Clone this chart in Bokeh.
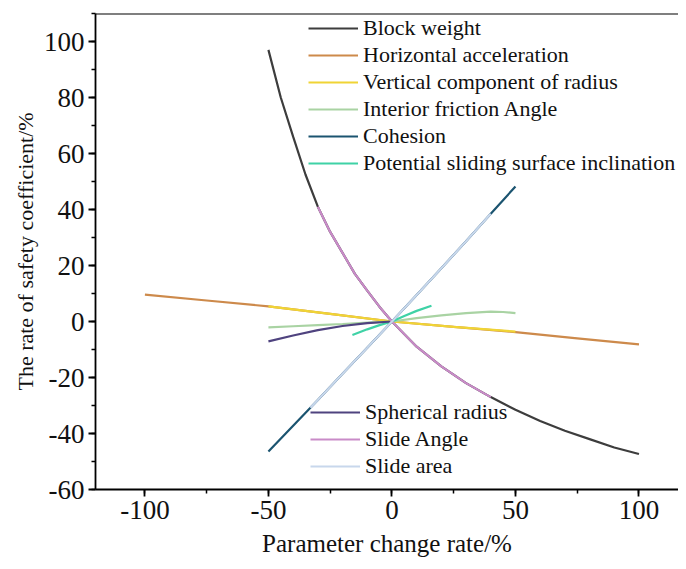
from bokeh.plotting import figure
from bokeh.models import (Legend, LegendItem, SingleIntervalTicker, Span, Range1d,
                          PrintfTickFormatter)
from bokeh.embed import file_html
from bokeh.resources import INLINE

# ---- data ----
bw_x = [-50, -45, -40, -35, -30, -25, -20, -15, -10, -5, 0, 10, 20, 30, 40, 50, 60, 70, 80, 90, 100]
bw_y = [97, 80, 66, 52.5, 41, 32, 24.5, 17, 11, 5.2, 0, -9, -16, -22, -27, -31.5, -35.5, -39, -42, -45, -47.3]

ha_x = [-100, -75, -50, -25, 0, 25, 50, 75, 100]
ha_y = [9.6, 7.5, 5.4, 2.7, 0, -1.9, -3.8, -6.0, -8.2]

vc_x = [-50, -25, 0, 25, 50]
vc_y = [5.4, 2.7, 0, -1.9, -3.6]

if_x = [-50, -40, -30, -20, -10, 0, 10, 20, 30, 40, 45, 50]
if_y = [-2.1, -1.7, -1.3, -0.9, -0.4, 0, 1.2, 2.2, 3.0, 3.5, 3.4, 3.0]

co_x = [-50, -40, -30, -20, -10, 0, 10, 20, 30, 40, 50]
co_y = [-46.4, -37.2, -28, -18.7, -9.4, 0, 9.5, 19, 28.7, 38.5, 48.2]

ps_x = [-16, -10, -5, 0, 5, 10, 16]
ps_y = [-4.8, -2.8, -1.3, 0, 2.0, 3.8, 5.6]

sr_x = [-50, -40, -30, -20, -10, 0]
sr_y = [-7.1, -5.0, -3.1, -1.6, -0.6, 0]

sa_x = [-30, -25, -20, -15, -10, -5, 0, 10, 20, 30, 40]
sa_y = [41, 32, 24.5, 17, 11, 5.2, 0, -9, -16, -22, -27]

ar_x = [-33, -30, -20, -10, 0, 10, 20, 30, 40]
ar_y = [-30.8, -28, -18.7, -9.4, 0, 9.5, 19, 28.7, 38.5]

names = ["Block weight", "Horizontal acceleration", "Vertical component of radius",
         "Interior friction Angle", "Cohesion", "Potential sliding surface inclination",
         "Spherical radius", "Slide Angle", "Slide area"]
colors = ["#3d3d3d", "#cd8a4b", "#f0d435", "#a9d3a3", "#1b5470", "#3fd2a6",
          "#4f437f", "#c98bc8", "#c8d7ec"]
series = [(bw_x, bw_y), (ha_x, ha_y), (vc_x, vc_y), (if_x, if_y), (co_x, co_y),
          (ps_x, ps_y), (sr_x, sr_y), (sa_x, sa_y), (ar_x, ar_y)]

FONT = "Liberation Serif"

p = figure(width=678, height=561, output_backend="svg", toolbar_location=None,
           x_range=Range1d(-120, 116), y_range=Range1d(-60, 110),
           min_border_left=95, min_border_top=13, min_border_bottom=72, min_border_right=0)
p.outline_line_color = None
p.xgrid.visible = False
p.ygrid.visible = False

renderers = []
for (xs, ys), c in zip(series, colors):
    r = p.line(xs, ys, line_color=c, line_width=2.2)
    renderers.append(r)

p.xaxis.ticker = SingleIntervalTicker(interval=50, num_minor_ticks=2)
p.yaxis.ticker = SingleIntervalTicker(interval=20, num_minor_ticks=2)
for ax in (p.xaxis[0], p.yaxis[0]):
    ax.formatter = PrintfTickFormatter(format="%d")
    ax.axis_line_width = 1.8
    ax.axis_line_color = "black"
    ax.major_tick_line_width = 1.8
    ax.minor_tick_line_width = 1.5
    ax.major_tick_out = 7
    ax.major_tick_in = 0
    ax.minor_tick_out = 4
    ax.minor_tick_in = 0
    ax.major_label_text_font = FONT
    ax.major_label_text_font_size = "27px"
    ax.major_label_text_color = "#111111"
    ax.axis_label_text_font = FONT
    ax.axis_label_text_font_style = "normal"
    ax.axis_label_text_color = "#111111"
    ax.major_label_standoff = 4
p.xaxis.axis_label = "Parameter change rate/%"
p.xaxis.axis_label_text_font_size = "25px"
p.xaxis.axis_label_standoff = 8
p.yaxis.axis_label = "The rate of safety coefficient/%"
p.yaxis.axis_label_text_font_size = "22px"
p.yaxis.axis_label_standoff = 3

p.add_layout(Span(location=110, dimension="width", line_color="black", line_width=1.8))

def make_legend(idx, loc):
    lg = Legend(items=[LegendItem(label=names[i], renderers=[renderers[i]]) for i in idx],
                location=loc, padding=0, margin=0, spacing=1,
                glyph_width=50, glyph_height=20, label_height=20, label_standoff=5,
                border_line_color=None, background_fill_alpha=0,
                label_text_font=FONT, label_text_font_size="22px", label_text_color="#111111")
    return lg

p.add_layout(make_legend([0, 1, 2, 3, 4, 5], (213, 313)), "center")
p.add_layout(make_legend([6, 7, 8], (215, 10)), "center")

open("out.html", "w").write(file_html(p, INLINE))
